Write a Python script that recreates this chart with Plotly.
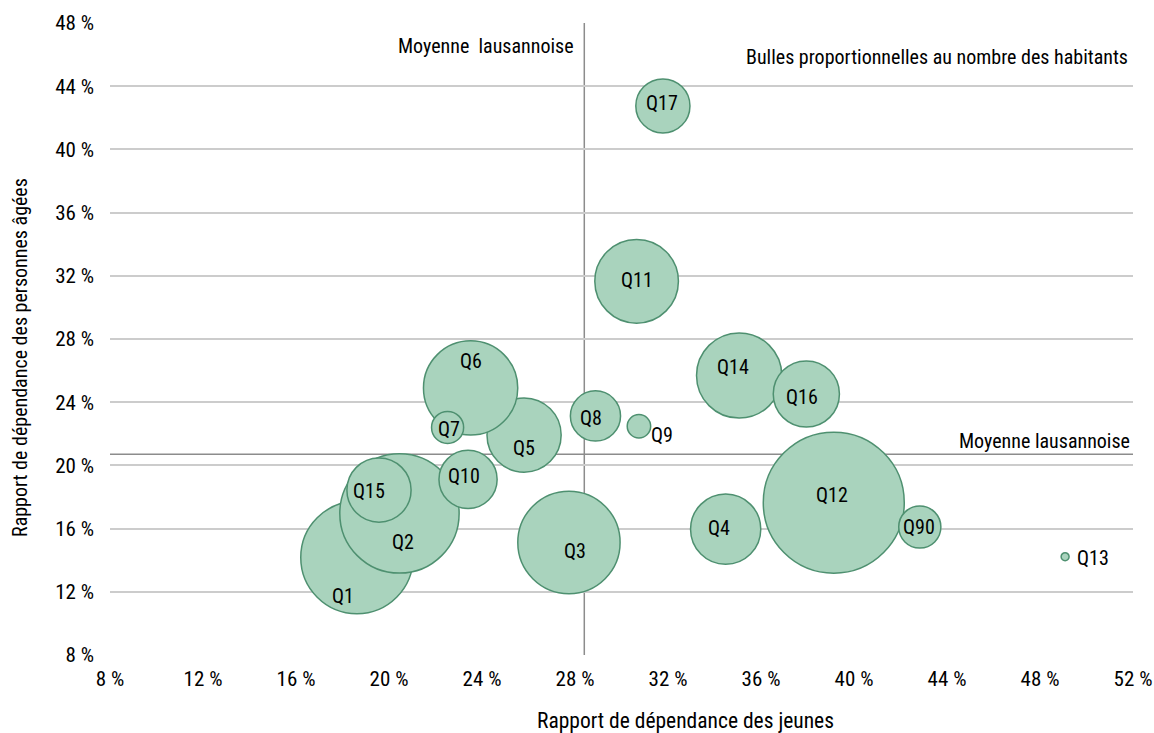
import plotly.graph_objects as go

# ---- data ----
quartiers = ["Q1", "Q2", "Q3", "Q4", "Q5", "Q6", "Q7", "Q8", "Q9", "Q10",
             "Q11", "Q12", "Q13", "Q14", "Q15", "Q16", "Q17", "Q90"]
dep_jeunes = [18.62, 20.45, 27.74, 34.48, 25.81, 23.51, 22.52, 28.88, 30.75, 23.40,
              30.65, 39.13, 49.08, 35.06, 19.57, 37.95, 31.78, 42.83]
dep_agees = [14.17, 16.96, 15.12, 15.96, 21.92, 24.90, 22.40, 23.13, 22.48, 19.11,
             31.65, 17.64, 14.22, 25.69, 18.44, 24.52, 42.75, 16.10]
habitants = [15840, 17880, 13140, 6190, 6910, 11160, 1290, 3160, 690, 4250,
             8780, 24960, 80, 9120, 5170, 5500, 3680, 2230]
moyenne_jeunes = 28.4
moyenne_agees = 20.7
x_ticks = [8, 12, 16, 20, 24, 28, 32, 36, 40, 44, 48, 52]
y_ticks = [8, 12, 16, 20, 24, 28, 32, 36, 40, 44, 48]

# ---- styles ----
FONT = "Roboto Condensed, Liberation Sans Narrow, Arial Narrow, sans-serif"
FS = 20
FILL = "#a9d3bd"
EDGE = "#4e9070"
GRID = "#cccccc"
MEAN = "#8c8c8c"
MAX_DIAM = 141
label_shift = {  # pixel offsets of the labels from bubble centres
    "Q1": (-14, -38), "Q2": (4, -29), "Q3": (6, -8), "Q4": (-7, 1), "Q5": (0, -13),
    "Q6": (0, 27), "Q7": (1, -2), "Q8": (-4, -2), "Q9": (23, -9), "Q10": (-4, 3),
    "Q11": (0, 1), "Q12": (-2, 8), "Q13": (28, -1), "Q14": (-6, 9), "Q15": (-10, -1),
    "Q16": (-4, -3), "Q17": (-1, 3), "Q90": (-1, 0),
}

fig = go.Figure()
fig.add_trace(go.Scatter(
    x=dep_jeunes, y=dep_agees, mode="markers",
    marker=dict(size=habitants, sizemode="area",
                sizeref=2 * max(habitants) / MAX_DIAM ** 2,
                color=FILL, opacity=1, line=dict(color=EDGE, width=1.5)),
    text=quartiers, hoverinfo="text", showlegend=False,
))

# mean lines
fig.add_shape(type="line", xref="x", yref="y", x0=8, x1=52,
              y0=moyenne_agees, y1=moyenne_agees, line=dict(color=MEAN, width=1.5), layer="below")
fig.add_shape(type="line", xref="x", yref="y", x0=moyenne_jeunes, x1=moyenne_jeunes,
              y0=8, y1=48, line=dict(color=MEAN, width=1.5), layer="below")

for q, xv, yv in zip(quartiers, dep_jeunes, dep_agees):
    dx, dy = label_shift[q]
    fig.add_annotation(x=xv, y=yv, text=q, showarrow=False, xshift=dx, yshift=dy,
                       font=dict(family=FONT, size=FS, color="#000000"))

txt = dict(family=FONT, size=FS, color="#000")
tick_txt = dict(family=FONT, size=21, color="#000")
fig.add_annotation(x=moyenne_jeunes, y=48, xref="x", yref="y", text="Moyenne  lausannoise",
                   showarrow=False, xanchor="right", yanchor="middle", xshift=-8, yshift=-23,
                   font=txt)
fig.add_annotation(x=52, y=moyenne_agees, xref="x", yref="y", text="Moyenne lausannoise",
                   showarrow=False, xanchor="right", yanchor="middle", xshift=-1, yshift=13,
                   font=txt)
fig.add_annotation(x=52, y=48, xref="x", yref="y", text="Bulles proportionnelles au nombre des habitants",
                   showarrow=False, xanchor="right", yanchor="middle", xshift=-3, yshift=-34,
                   font=txt)
fig.add_annotation(x=0.563, y=0, xref="paper", yref="paper", text="Rapport de dépendance des jeunes",
                   showarrow=False, xanchor="center", yanchor="middle", yshift=-65,
                   font=dict(family=FONT, size=21.5, color="#000"))
fig.add_annotation(x=0, y=0.47, xref="paper", yref="paper",
                   text="Rapport de dépendance des personnes âgées", textangle=-90,
                   showarrow=False, xanchor="center", yanchor="middle", xshift=-90,
                   font=txt)

fig.update_xaxes(range=[8, 52], tickvals=x_ticks, ticktext=[f"{v} %" for v in x_ticks],
                 showgrid=False, zeroline=False, showline=False, ticks="", automargin=False,
                 ticklabelstandoff=9, ticklabeloverflow="allow", tickfont=tick_txt)
fig.update_yaxes(range=[8, 48], tickvals=y_ticks, ticktext=[f"{v} %" for v in y_ticks],
                 showgrid=True, gridcolor=GRID, gridwidth=2, zeroline=False, showline=False,
                 ticks="", automargin=False, ticklabelstandoff=15, ticklabeloverflow="allow",
                 tickfont=tick_txt)

fig.update_layout(
    width=1154, height=733,
    margin=dict(l=110, r=21, t=23, b=78),
    plot_bgcolor="white", paper_bgcolor="white",
)

fig.write_html(
    "out.html",
    config={"displayModeBar": False},
    post_script="document.body.style.margin='0';"
                "document.documentElement.style.overflow='hidden';"
                "document.body.style.overflow='hidden';",
)
